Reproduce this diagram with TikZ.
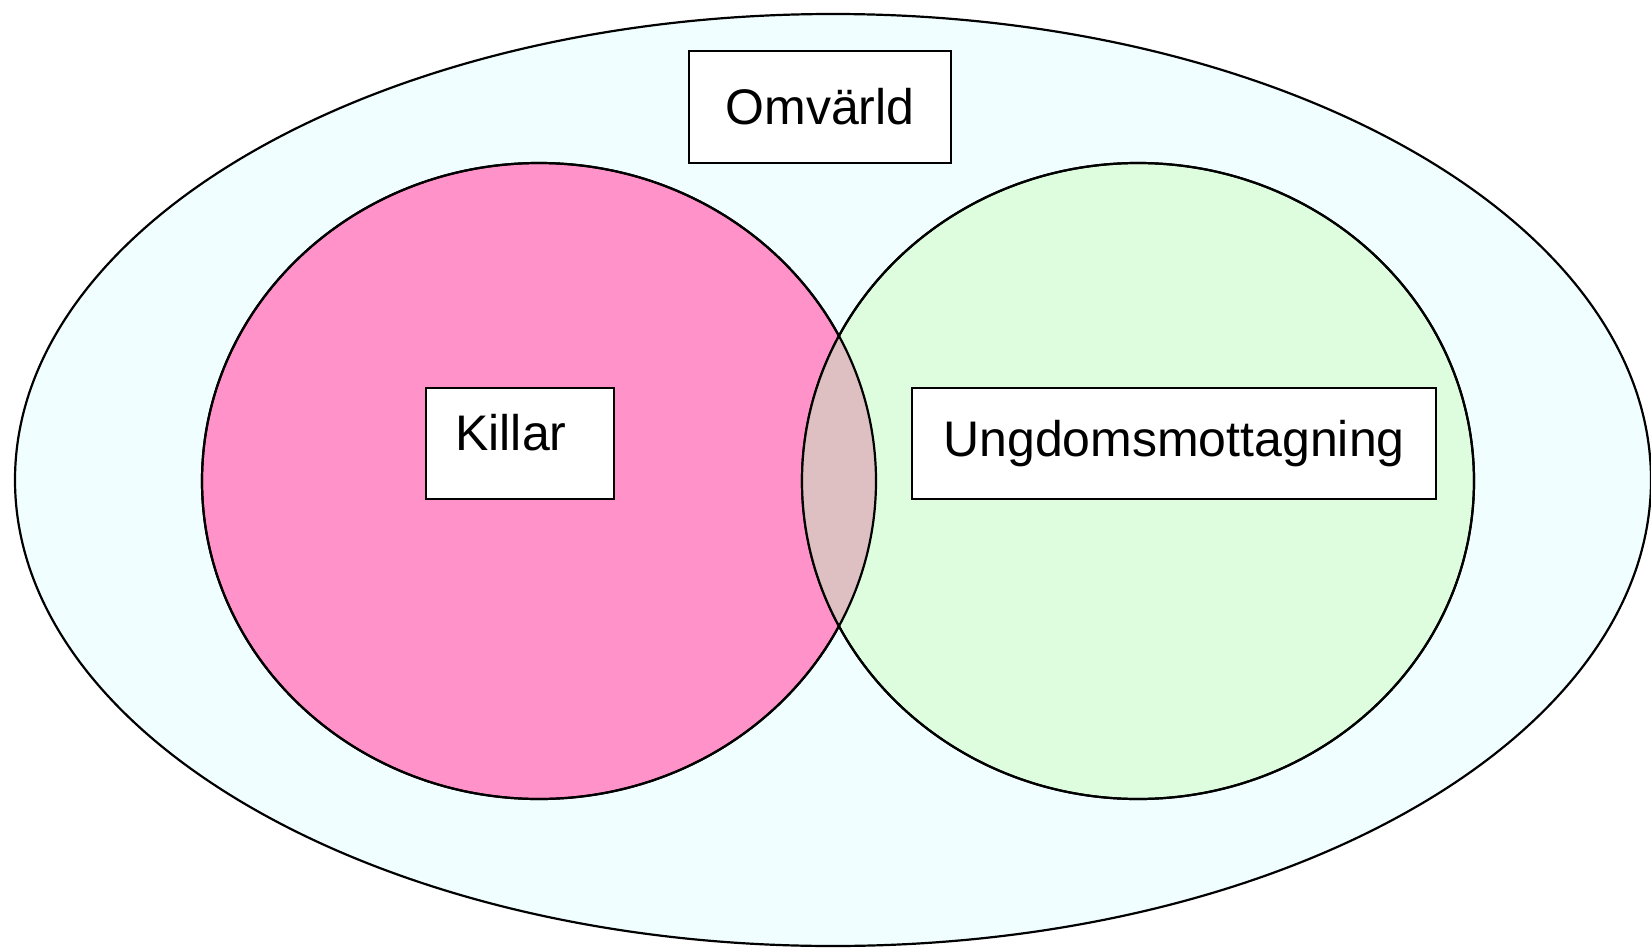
\documentclass[tikz,border=0pt]{standalone}
\usepackage{fontspec}
\setmainfont{Liberation Sans}
\usetikzlibrary{shapes.geometric}
\definecolor{omvcol}{RGB}{240,254,255}
\definecolor{killcol}{RGB}{255,146,200}
\definecolor{ungcol}{RGB}{222,253,222}
\definecolor{lenscol}{RGB}{222,192,194}
\begin{document}
\begin{tikzpicture}[x=0.5pt,y=-0.5pt,
  set/.style={draw, ellipse, line width=1.1pt, inner sep=0pt},
  box/.style={draw, fill=white, line width=1.1pt, inner sep=0pt,
    font=\fontsize{25}{30}\selectfont}]
\useasboundingbox (0,0) rectangle (1651,948);

\node[set, fill=omvcol, minimum width=818pt, minimum height=466pt] (omv) at (833,480) {};
\node[set, fill=killcol, minimum width=337pt, minimum height=318pt] (killar) at (539,481) {};
\node[set, fill=ungcol, minimum width=336pt, minimum height=318pt] (ungdom) at (1138,481) {};

% overlap of the two sets
\begin{scope}
\clip (killar.center) ellipse [x radius=168.5pt, y radius=159pt];
\fill[lenscol] (ungdom.center) ellipse [x radius=168pt, y radius=159pt];
\end{scope}
\draw[line width=1.1pt] (killar.center) ellipse [x radius=168.5pt, y radius=159pt];
\draw[line width=1.1pt] (ungdom.center) ellipse [x radius=168pt, y radius=159pt];

\node[box, minimum width=131pt, minimum height=56pt] (omvbox) at (820,107) {Omvärld};
\node[box, minimum width=94pt, minimum height=55.5pt] (killarbox) at (520,443.5) {};
\node[font=\fontsize{25}{30}\selectfont] (killartext) at (511,433) {Killar};
\node[box, minimum width=262pt, minimum height=55.5pt] (ungdombox) at (1174,443.5) {Ungdomsmottagning};
\end{tikzpicture}
\end{document}
